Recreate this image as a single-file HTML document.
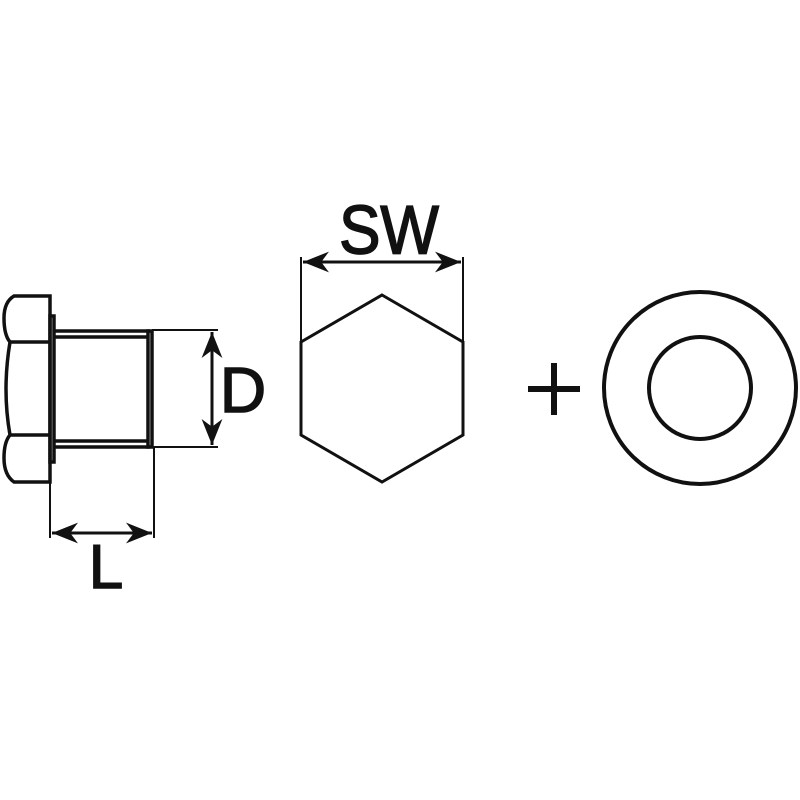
<!DOCTYPE html>
<html><head><style>body{margin:0;background:#fff}svg{display:block}</style></head><body>
<svg width="800" height="800" viewBox="0 0 800 800" xmlns="http://www.w3.org/2000/svg">
<defs>
<marker id="a" viewBox="0 0 10 10" refX="10" refY="5" markerWidth="26" markerHeight="26" markerUnits="userSpaceOnUse" orient="auto-start-reverse">
<path d="M0,1 L10,5 L0,9 L3,5 Z" fill="#111"/></marker>
</defs>
<g fill="none" stroke="#111" stroke-width="3.5">
<path d="M14,296 L50,296 L50,482 L14,482 Q4,475 4,458 Q4,442 10,435 Q2,390 10,342 Q4,335 4,318 Q4,302 14,296 Z"/>
<line x1="10" y1="342" x2="50" y2="342"/>
<line x1="10" y1="435" x2="50" y2="435"/>
<rect x="50" y="316" width="4" height="146"/>
<line x1="54" y1="331" x2="150" y2="331"/>
<line x1="54" y1="337" x2="148" y2="337"/>
<line x1="54" y1="441" x2="148" y2="441"/>
<line x1="54" y1="447" x2="150" y2="447"/>
<rect x="148" y="331" width="4" height="116"/>
</g>
<g stroke="#111" stroke-width="2" fill="none">
<line x1="152" y1="330" x2="218" y2="330"/>
<line x1="152" y1="447" x2="218" y2="447"/>
<line x1="212" y1="332" x2="212" y2="445" marker-start="url(#a)" marker-end="url(#a)" stroke-width="3"/>
<line x1="50" y1="462" x2="50" y2="538"/>
<line x1="154" y1="447" x2="154" y2="538"/>
<line x1="52" y1="533" x2="152" y2="533" marker-start="url(#a)" marker-end="url(#a)" stroke-width="3"/>
<polygon points="382,295 463,342 463,435 382,482 301,435 301,342" stroke-width="3"/>
<line x1="301" y1="257" x2="301" y2="342"/>
<line x1="463" y1="257" x2="463" y2="342"/>
<line x1="303" y1="262" x2="461" y2="262" marker-start="url(#a)" marker-end="url(#a)" stroke-width="3"/>
<circle cx="700" cy="388" r="96" stroke-width="4"/>
<circle cx="700" cy="388" r="51" stroke-width="4"/>
</g>
<g stroke="#111" stroke-width="6">
<line x1="528" y1="389" x2="580" y2="389"/>
<line x1="554" y1="363" x2="554" y2="415"/>
</g>
<g font-family="Liberation Sans, sans-serif" fill="#111" stroke="#111" stroke-width="1.5">
<text x="389" y="253" font-size="62" text-anchor="middle" transform="translate(0,-25) scale(1,1.1)">SW</text>
<text x="243" y="412" font-size="64" text-anchor="middle">D</text>
<text x="106" y="588" font-size="62" text-anchor="middle">L</text>
</g>
</svg>
</body></html>
